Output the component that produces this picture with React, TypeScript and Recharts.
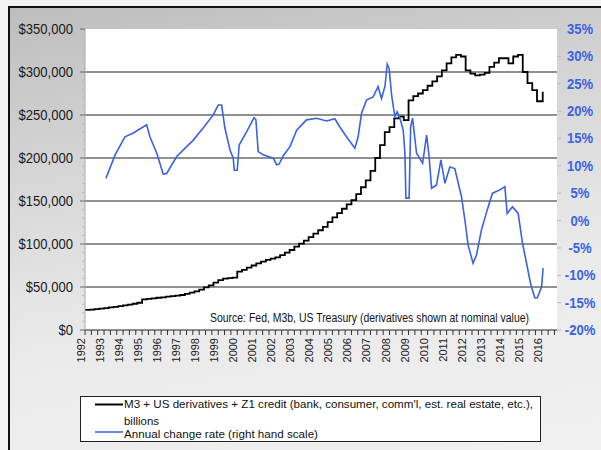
import React from "react";
import { LineChart, Line, XAxis, YAxis, ReferenceLine, CartesianGrid } from "recharts";

// tick labels
const years = [
  1992, 1993, 1994, 1995, 1996, 1997, 1998, 1999, 2000, 2001, 2002, 2003,
  2004, 2005, 2006, 2007, 2008, 2009, 2010, 2011, 2012, 2013, 2014, 2015, 2016,
];
const dollarTicks = [0, 50000, 100000, 150000, 200000, 250000, 300000, 350000];
const pctTicks = [-20, -15, -10, -5, 0, 5, 10, 15, 20, 25, 30, 35];

// M3 + derivatives + Z1 credit, billions (quarterly)
const creditLevels: [number, number][] = [
  [1992.0, 23300], [1992.25, 23800], [1992.5, 24300], [1992.75, 24800],
  [1993.0, 25500], [1993.25, 26200], [1993.5, 27000], [1993.75, 27800],
  [1994.0, 28600], [1994.25, 29500], [1994.5, 30500], [1994.75, 31700],
  [1995.0, 35500], [1995.25, 36200], [1995.5, 36800], [1995.75, 37500],
  [1996.0, 38000], [1996.25, 38700], [1996.5, 39400], [1996.75, 40000],
  [1997.0, 40700], [1997.25, 42000], [1997.5, 43500], [1997.75, 45000],
  [1998.0, 47000], [1998.25, 49600], [1998.5, 52000], [1998.75, 55000],
  [1999.0, 58000], [1999.25, 59700], [1999.5, 60300], [1999.75, 60800],
  [2000.0, 67800], [2000.25, 70000], [2000.5, 72500], [2000.75, 75000],
  [2001.0, 77500], [2001.25, 79500], [2001.5, 81500], [2001.75, 83000],
  [2002.0, 84500], [2002.25, 87000], [2002.5, 90000], [2002.75, 93000],
  [2003.0, 96900], [2003.25, 100500], [2003.5, 104000], [2003.75, 108000],
  [2004.0, 112000], [2004.25, 116000], [2004.5, 120000], [2004.75, 125500],
  [2005.0, 131000], [2005.25, 136000], [2005.5, 141000], [2005.75, 146000],
  [2006.0, 151000], [2006.25, 158000], [2006.5, 166000], [2006.75, 174000],
  [2007.0, 185000], [2007.25, 200000], [2007.5, 215000], [2007.75, 230000],
  [2008.0, 236000], [2008.25, 246000], [2008.5, 248000], [2008.75, 244000],
  [2009.0, 267000], [2009.25, 272000], [2009.5, 275000], [2009.75, 279000],
  [2010.0, 284000], [2010.25, 289000], [2010.5, 295000], [2010.75, 302000],
  [2011.0, 310000], [2011.25, 317000], [2011.5, 320000], [2011.75, 318000],
  [2012.0, 302000], [2012.25, 298000], [2012.5, 296000], [2012.75, 297000],
  [2013.0, 299000], [2013.25, 306000], [2013.5, 311000], [2013.75, 316000],
  [2014.0, 316000], [2014.25, 310000], [2014.5, 318000], [2014.75, 320000],
  [2015.0, 300000], [2015.25, 287000], [2015.5, 279000], [2015.75, 266000],
  [2016.05, 277000],
];

// annual change rate, % (right hand scale)
const changeRate: [number, number][] = [
  [1993.1, 7.7], [1993.58, 12.0], [1994.1, 15.3], [1994.54, 16.0],
  [1995.24, 17.5], [1995.41, 15.3], [1995.77, 12.3], [1996.11, 8.5],
  [1996.29, 8.6], [1996.82, 11.7], [1997.34, 13.5], [1997.69, 14.7],
  [1998.21, 16.9], [1998.74, 19.3], [1999.0, 21.1], [1999.18, 21.1],
  [1999.35, 16.9], [1999.62, 12.9], [1999.79, 11.4], [1999.84, 9.2],
  [2000.0, 9.2], [2000.1, 13.8], [2000.49, 16.2], [2000.88, 18.8],
  [2000.98, 18.4], [2001.1, 12.6], [2001.36, 12.0], [2001.89, 11.4],
  [2002.07, 10.2], [2002.2, 10.3], [2002.41, 11.8], [2002.77, 13.5],
  [2003.12, 16.5], [2003.64, 18.4], [2004.17, 18.7], [2004.69, 18.2],
  [2005.13, 18.6], [2005.39, 17.1], [2005.74, 15.3], [2006.18, 13.2],
  [2006.35, 15.3], [2006.53, 19.6], [2006.79, 22.0], [2007.14, 22.6],
  [2007.4, 24.5], [2007.58, 22.3], [2007.76, 24.5], [2007.88, 28.6],
  [2007.98, 27.8], [2008.11, 22.9], [2008.28, 19.0], [2008.4, 19.9],
  [2008.54, 18.8], [2008.72, 16.5], [2008.81, 12.3], [2008.86, 4.1],
  [2009.03, 4.1], [2009.11, 17.1], [2009.21, 18.7], [2009.42, 12.3],
  [2009.74, 10.5], [2009.95, 15.6], [2010.08, 11.7], [2010.21, 5.9],
  [2010.47, 6.5], [2010.7, 11.1], [2010.91, 6.8], [2011.17, 9.8],
  [2011.43, 9.5], [2011.78, 4.4], [2011.96, 0.1], [2012.13, -4.5],
  [2012.39, -7.8], [2012.57, -6.3], [2012.83, -1.7], [2013.13, 1.9],
  [2013.41, 5.0], [2013.8, 5.6], [2014.06, 6.2], [2014.18, 1.3],
  [2014.46, 2.5], [2014.76, 1.3], [2014.99, -4.2], [2015.2, -7.8],
  [2015.41, -11.5], [2015.63, -14.1], [2015.77, -14.1], [2015.99, -12.1],
  [2016.07, -8.7],
];

const creditData = creditLevels.map(([t, v]) => ({ t, v }));
const rateData = changeRate.map(([t, v]) => ({ t, v }));

// 3 ticks per year on the date axis, 10k minor ticks on the left axis
const dateTicks = years.flatMap((y) => [y, y + 1 / 3, y + 2 / 3]);
const dollarMinor = dollarTicks.slice(0, -1).flatMap((d) => [d, d + 10000, d + 20000, d + 30000, d + 40000]).concat([350000]);

const FONT = '"Liberation Sans", Arial, sans-serif';
const BLUE = "#3b62e2";

const DateTick = (props: any) => {
  const { x, y, payload } = props;
  const v = payload.value;
  const isYear = Math.abs(v - Math.round(v)) < 1e-6;
  return (
    <g>
      <line x1={x} x2={x} y1={y} y2={y + 5} stroke="#333" />
      {isYear && (
        <text transform={`translate(${x},${y + 8}) rotate(-90)`} textAnchor="end" fontSize={11} fill="#222" fontFamily={FONT}>
          {Math.round(v)}
        </text>
      )}
    </g>
  );
};

const DollarTick = (props: any) => {
  const { x, y, payload } = props;
  const v = payload.value;
  const major = v % 50000 === 0;
  return (
    <g>
      <line x1={x - (major ? 5 : 3)} x2={x} y1={y} y2={y} stroke={major ? "#666" : "#bbb"} />
      {major && (
        <text transform={`translate(${x - 12},${y + 5}) scale(0.87,1)`} textAnchor="end" fontSize={15} fill="#1a1a1a" fontFamily={FONT}>
          {"$" + v.toLocaleString("en-US")}
        </text>
      )}
    </g>
  );
};

const PctTick = (props: any) => {
  const { x, y, payload } = props;
  return (
    <g>
      <line x1={x} x2={x + 4} y1={y} y2={y} stroke="#bbb" />
      <text transform={`translate(${x + 23},${y + 5}) scale(0.87,1)`} textAnchor="middle" fontSize={15} fontWeight="bold" fill={BLUE} fontFamily={FONT}>
        {payload.value + "%"}
      </text>
    </g>
  );
};

export default function App() {
  return (
    <div style={{ position: "absolute", left: 0, top: 0, width: 601, height: 450, overflow: "hidden", background: "#f3f3f3", fontFamily: FONT }}>
      <div
        style={{
          position: "absolute", left: 8, top: 6, width: 620, height: 470,
          borderLeft: "2px solid #111", borderTop: "2px solid #111",
          background: "linear-gradient(170deg, #bdbdbd 0%, #d6d6d6 30%, #eaeaea 60%, #f2f2f2 100%)",
        }}
      />
      <LineChart width={601} height={372} margin={{ top: 29, right: 0, bottom: 0, left: 0 }} style={{ position: "absolute", left: 0, top: 0 }}>
        <CartesianGrid yAxisId="left" horizontal={false} vertical={false} fill="#ffffff" />
        <XAxis
          dataKey="t" type="number" domain={[1992, 2016.8]} ticks={dateTicks} interval={0}
          tick={<DateTick />} tickLine={false} tickSize={0} tickMargin={0} height={42}
          axisLine={{ stroke: "#222" }} allowDataOverflow
        />
        <YAxis
          yAxisId="left" orientation="left" domain={[0, 350000]} ticks={dollarMinor} interval={0}
          tick={<DollarTick />} tickLine={false} tickSize={0} tickMargin={0} width={85}
          axisLine={{ stroke: "#aaa" }}
        />
        <YAxis
          yAxisId="right" orientation="right" domain={[-20, 35]} ticks={pctTicks} interval={0}
          tick={<PctTick />} tickLine={false} tickSize={0} tickMargin={0} width={44} axisLine={false}
        />
        {dollarTicks.slice(1, -1).map((d) => (
          <ReferenceLine key={d} yAxisId="left" y={d} stroke="#222" strokeWidth={1} />
        ))}
        <Line
          yAxisId="left" data={creditData} dataKey="v" type="stepAfter" stroke="#000" strokeWidth={1.8}
          dot={false} activeDot={false} isAnimationActive={false}
        />
        <Line
          yAxisId="right" data={rateData} dataKey="v" type="linear" stroke={BLUE} strokeWidth={1.6}
          dot={false} activeDot={false} isAnimationActive={false}
        />
      </LineChart>
      <svg width={601} height={450} style={{ position: "absolute", left: 0, top: 0, pointerEvents: "none" }}>
        <text x={210} y={322} fontSize={12} fill="#111" fontFamily={FONT} textLength={319} lengthAdjust="spacingAndGlyphs">
          Source: Fed, M3b, US Treasury (derivatives shown at nominal value)
        </text>
      </svg>
      <div style={{ position: "absolute", left: 80, top: 396, width: 459, height: 44, border: "1px solid #222", background: "#fff" }}>
        <svg width={459} height={44} style={{ display: "block" }}>
          <line x1={14} x2={42} y1={7.5} y2={7.5} stroke="#000" strokeWidth={2} />
          <text x={43} y={11} fontSize={11.5} fill="#111" fontFamily={FONT} textLength={409} lengthAdjust="spacingAndGlyphs">
            M3 + US derivatives + Z1 credit (bank, consumer, comm'l, est. real estate, etc.),
          </text>
          <text x={43} y={28} fontSize={11} fill="#111" fontFamily={FONT} textLength={35} lengthAdjust="spacingAndGlyphs">
            billions
          </text>
          <line x1={14} x2={42} y1={35} y2={35} stroke={BLUE} strokeWidth={1.5} />
          <text x={43} y={40.5} fontSize={11} fill="#111" fontFamily={FONT} textLength={194} lengthAdjust="spacingAndGlyphs">
            Annual change rate (right hand scale)
          </text>
        </svg>
      </div>
    </div>
  );
}
